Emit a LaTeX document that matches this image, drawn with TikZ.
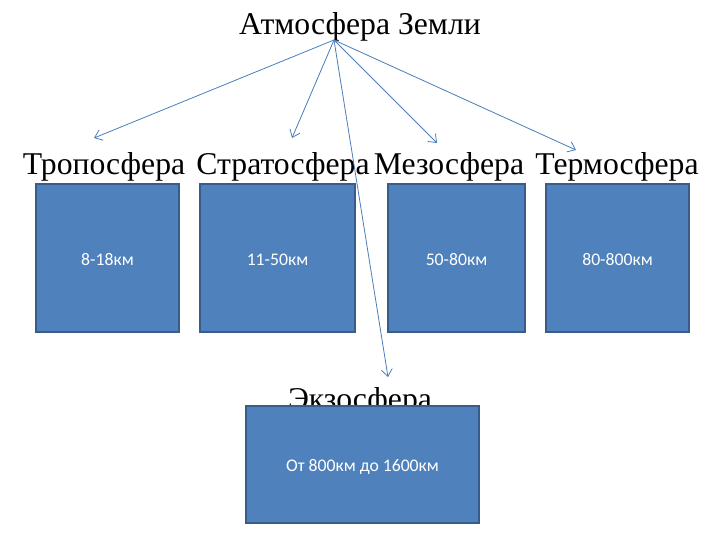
\documentclass[tikz,border=0pt]{standalone}
\usepackage{fontspec}
\setmainfont{Liberation Serif}
\newfontfamily\boxfont{Carlito}
\usetikzlibrary{arrows.meta}
\definecolor{boxfill}{HTML}{4F81BD}
\definecolor{boxline}{HTML}{385D8A}
\definecolor{arrowc}{HTML}{4A7EBB}
\tikzset{
  lbl/.style={font=\fontsize{31.7}{32}\selectfont, anchor=base, inner sep=0pt},
  layer/.style={draw=boxline, line width=1.5pt, fill=boxfill, text=white, font=\boxfont\fontsize{17.7}{20}\selectfont},
  conn/.style={draw=arrowc, line width=0.8pt, -{Straight Barb[length=7pt, width=11pt, line width=0.8pt]}}
}
\begin{document}
\begin{tikzpicture}[x=1pt,y=-1pt]
\useasboundingbox (0,0) rectangle (720,540);
\node[lbl] (title) at (360,35) {Атмосфера Земли};
\node[lbl] (tro) at (104,175) {Тропосфера};
\node[lbl] (str) at (283,175) {Стратосфера};
\node[lbl] (mez) at (449,175) {Мезосфера};
\node[lbl] (ter) at (617,175) {Термосфера};
\node[lbl] (exo) at (360,409) {Экзосфера};
\path[layer] (36,184) rectangle node[yshift=-2pt] (b1) {8-18км} (179,332);
\path[layer] (200,184) rectangle node[yshift=-2pt] (b2) {11-50км} (355,332);
\path[layer] (388,184) rectangle node[yshift=-2pt] (b3) {50-80км} (525,332);
\path[layer] (546,184) rectangle node[yshift=-2pt] (b4) {80-800км} (689,332);
\path[layer] (246,406) rectangle node[yshift=-2pt] (b5) {От 800км до 1600км} (479,523);
\coordinate (o) at (334,40);
\coordinate (t1) at (94,138);
\coordinate (t2) at (292,138);
\coordinate (t3) at (437,143);
\coordinate (t4) at (576,150);
\coordinate (t5) at (388,377);
\draw[conn] (o) -- (t1);
\draw[conn] (o) -- (t2);
\draw[conn] (o) -- (t3);
\draw[conn] (o) -- (t4);
\draw[conn] (o) -- (t5);
\end{tikzpicture}
\end{document}
